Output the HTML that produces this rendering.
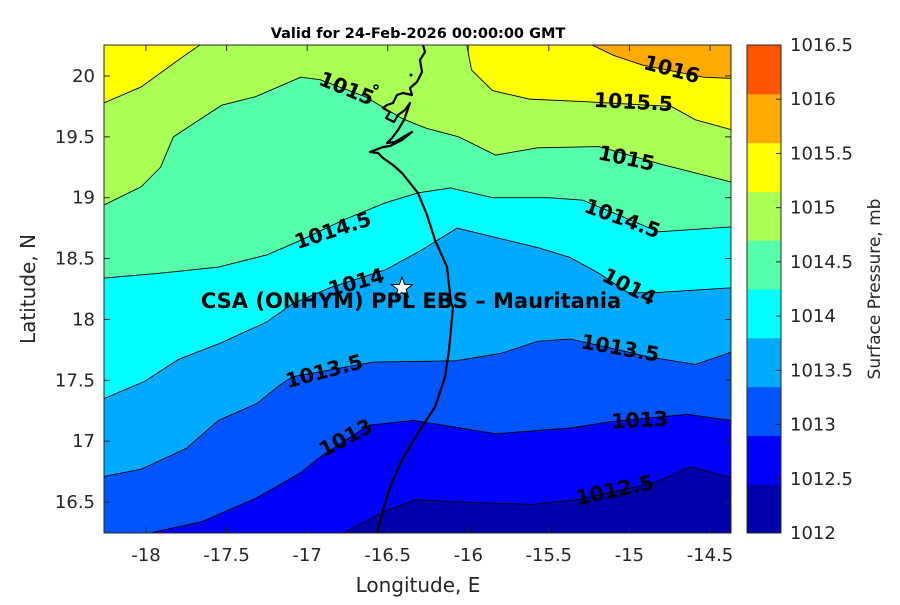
<!DOCTYPE html>
<html><head><meta charset="utf-8"><style>
body{margin:0;background:#fff;}
svg text{font-family:"DejaVu Sans","Liberation Sans",sans-serif;}
</style></head><body>
<svg id="chart" width="900" height="600" viewBox="0 0 900 600" xmlns="http://www.w3.org/2000/svg">
<text x="418" y="38" font-size="14.5" font-weight="bold" text-anchor="middle">Valid for 24-Feb-2026 00:00:00 GMT</text>
<defs><clipPath id="pc"><rect x="104" y="45" width="627" height="488"/></clipPath></defs>
<g id="fills" clip-path="url(#pc)"></g>
<g id="lines" clip-path="url(#pc)"></g>
<g clip-path="url(#pc)">
<path d="M423,45 L425,52 L420,60 L422,72 L417,82 L410,88 L412,95 L403,93 L397,95 L393,103 L387,105 L383,108 L390,112 L386,118 L394,122 L398,115 L405,110 L410,103 L404,120 L398,130 L392,138 L387,143 L395,142 L405,136 L412,132 L402,140 L390,146 L383,147 M383,147 L370,152 L378,153 L383,158 L393,165 L402,173 L418,193 L427,215 L435,240 L447,267 L451,303 L453,307 L449,350 L445,377 L435,407 L418,433 L402,460 L390,487 L382,513 L377,533" fill="none" stroke="#000" stroke-width="2.2" stroke-linejoin="round"/>
<circle cx="376" cy="87" r="2" fill="none" stroke="#000" stroke-width="1.5"/>
<circle cx="411" cy="75" r="1.5" fill="#000"/>
</g>
<g id="clabels" font-size="20.5" font-weight="bold" text-anchor="middle">
<text transform="translate(344,95) rotate(22)">1015</text>
<text transform="translate(670,76) rotate(15)">1016</text>
<text transform="translate(633,109) rotate(3)">1015.5</text>
<text transform="translate(625,165) rotate(12)">1015</text>
<text transform="translate(335,237) rotate(-18)">1014.5</text>
<text transform="translate(620,225) rotate(20)">1014.5</text>
<text transform="translate(358,289) rotate(-15)">1014</text>
<text transform="translate(626,293) rotate(27)">1014</text>
<text transform="translate(326,378) rotate(-15)">1013.5</text>
<text transform="translate(619,355) rotate(10)">1013.5</text>
<text transform="translate(349,444) rotate(-28)">1013</text>
<text transform="translate(640,427) rotate(-3)">1013</text>
<text transform="translate(616,497) rotate(-12)">1012.5</text>
</g>
<polygon points="402,277 404.6,284.4 412.5,284.6 406.2,289.4 408.5,297 402,292.5 395.5,297 397.8,289.4 391.5,284.6 399.4,284.4" fill="#fff" stroke="#000" stroke-width="1"/>
<text x="411" y="308" font-size="21" font-weight="bold" text-anchor="middle">CSA (ONHYM) PPL EBS  – Mauritania</text>
<rect x="104" y="45" width="627" height="488" fill="none" stroke="#262626" stroke-width="1"/>
<g id="axes"></g>
<text x="418" y="592" font-size="20" text-anchor="middle" fill="#262626">Longitude, E</text>
<text transform="translate(35,289) rotate(-90)" font-size="20" text-anchor="middle" fill="#262626">Latitude, N</text>
<g id="cbar"></g>
<text transform="translate(880,289) rotate(-90)" font-size="17" text-anchor="middle" fill="#262626">Surface Pressure, mb</text>
</svg>
<script>
const levels=[1012,1012.5,1013,1013.5,1014,1014.5,1015,1015.5,1016,1016.5];
const bandColors=["#0000aa","#0000ff","#0055ff","#00aaff","#00ffff","#55ffaa","#aaff55","#ffff00","#ffaa00","#ff5500"];
const xTicks=[-18,-17.5,-17,-16.5,-16,-15.5,-15,-14.5];
const yTicks=[16.5,17,17.5,18,18.5,19,19.5,20];
const c1012_5_lon=[-16.77,-16.51,-16.32,-16.06,-15.60,-15.32,-14.84,-14.62,-14.37];
const c1012_5_lat=[16.25,16.43,16.52,16.50,16.48,16.52,16.66,16.79,16.70];
const c1013_lon=[-17.96,-17.65,-17.32,-17.04,-16.92,-16.62,-16.34,-16.06,-15.83,-15.35,-15.12,-14.64,-14.37];
const c1013_lat=[16.25,16.34,16.53,16.74,16.87,17.13,17.17,17.11,17.06,17.11,17.16,17.22,17.17];
const c1013_5_lon=[-18.26,-18.03,-17.75,-17.55,-17.31,-17.17,-17.09,-16.59,-16.08,-15.80,-15.57,-15.37,-14.87,-14.59,-14.37];
const c1013_5_lat=[16.71,16.77,16.94,17.17,17.31,17.46,17.53,17.65,17.66,17.72,17.82,17.84,17.69,17.63,17.73];
const c1014_lon=[-18.26,-18.01,-17.80,-17.53,-17.25,-17.09,-16.86,-16.51,-16.29,-16.07,-15.85,-15.57,-15.37,-15.19,-15.01,-14.84,-14.37];
const c1014_lat=[17.35,17.49,17.67,17.81,17.98,18.13,18.26,18.41,18.57,18.75,18.68,18.59,18.51,18.38,18.22,18.22,18.26];
const c1014_5_lon=[-18.26,-17.91,-17.55,-17.25,-17.04,-16.77,-16.51,-16.31,-16.11,-15.85,-15.50,-15.29,-14.82,-14.37];
const c1014_5_lat=[18.34,18.38,18.43,18.53,18.65,18.82,18.96,19.04,19.08,19.00,19.00,18.98,18.72,18.76];
const c1015_lon=[-18.26,-18.03,-17.91,-17.83,-17.75,-17.53,-17.32,-17.04,-16.92,-16.64,-16.41,-16.26,-16.06,-15.83,-15.57,-15.19,-14.79,-14.37];
const c1015_lat=[18.94,19.09,19.25,19.50,19.57,19.76,19.83,19.99,19.97,19.83,19.65,19.57,19.50,19.35,19.41,19.42,19.27,19.13];
const c1015_5a_lon=[-18.26,-18.03,-17.78,-17.66];
const c1015_5a_lat=[19.78,19.91,20.15,20.26];
const c1015_5b_lon=[-16.01,-15.98,-15.85,-15.62,-15.29,-14.74,-14.59,-14.37];
const c1015_5b_lat=[20.26,20.05,19.88,19.81,19.79,19.75,19.64,19.56];
const c1016_lon=[-15.24,-15.10,-14.92,-14.54,-14.37];
const c1016_lat=[20.26,20.17,20.09,19.99,19.98];

const contours=[
 {name:"1012-5",lon:c1012_5_lon,lat:c1012_5_lat,band:1,close:["TR","TL","BL"]},
 {name:"1013",lon:c1013_lon,lat:c1013_lat,band:2,close:["TR","TL","BL"]},
 {name:"1013-5",lon:c1013_5_lon,lat:c1013_5_lat,band:3,close:["TR","TL"]},
 {name:"1014",lon:c1014_lon,lat:c1014_lat,band:4,close:["TR","TL"]},
 {name:"1014-5",lon:c1014_5_lon,lat:c1014_5_lat,band:5,close:["TR","TL"]},
 {name:"1015",lon:c1015_lon,lat:c1015_lat,band:6,close:["TR","TL"]},
 {name:"1015-5-west",lon:c1015_5a_lon,lat:c1015_5a_lat,band:7,close:["TL"]},
 {name:"1015-5-east",lon:c1015_5b_lon,lat:c1015_5b_lat,band:7,close:["TR"]},
 {name:"1016",lon:c1016_lon,lat:c1016_lat,band:8,close:["TR"]}
];
const X0=104,X1=731,Y0=45,Y1=533;
function xs(lon){return 146+(lon+18)*161.14;}
function ys(lat){return 76+(20-lat)*121.71;}
const NS="http://www.w3.org/2000/svg";
function mk(tag,attrs,parent){const e=document.createElementNS(NS,tag);for(const k in attrs)e.setAttribute(k,attrs[k]);parent.appendChild(e);return e;}
const fills=document.getElementById('fills'),lines=document.getElementById('lines');
const bg=mk('rect',{x:X0,y:Y0,width:X1-X0,height:Y1-Y0,fill:bandColors[0]},fills);


const corner={TR:[X1+5,Y0-5],TL:[X0-5,Y0-5],BL:[X0-5,Y1+5]};
contours.forEach(c=>{
 const pts=c.lon.map((v,i)=>[xs(v),ys(c.lat[i])]);
 const poly=pts.concat(c.close.map(k=>corner[k]));
 const p=mk('polygon',{points:poly.map(q=>q.join(',')).join(' '),fill:bandColors[c.band]},fills);
 
 
 const l=mk('polyline',{points:pts.map(q=>q.join(',')).join(' '),fill:'none',stroke:'#000','stroke-width':0.9},lines);
 
 
});
const axes=document.getElementById('axes');
xTicks.forEach(t=>{
 const x=xs(t);
 const a=mk('line',{x1:x,y1:Y1,x2:x,y2:Y1-6,stroke:'#262626'},axes);
 
 
 mk('line',{x1:x,y1:Y0,x2:x,y2:Y0+6,stroke:'#262626'},axes);
 const tx=mk('text',{x:x,y:561,'font-size':18,'text-anchor':'middle',fill:'#262626'},axes);
 tx.textContent=t;
 
 
});
yTicks.forEach(t=>{
 const y=ys(t);
 const a=mk('line',{x1:X0,y1:y,x2:X0+6,y2:y,stroke:'#262626'},axes);
 
 
 mk('line',{x1:X1,y1:y,x2:X1-6,y2:y,stroke:'#262626'},axes);
 const tx=mk('text',{x:95,y:y+6,'font-size':18,'text-anchor':'end',fill:'#262626'},axes);
 tx.textContent=t;
 
 
});
const cbar=document.getElementById('cbar');
const cbX=747,cbW=34,cbTop=45,cbBot=533;
const nC=bandColors.length, nL=levels.length-1;
const bh=(cbBot-cbTop)/nC;
bandColors.forEach((col,i)=>{
 const r=mk('rect',{x:cbX,y:cbBot-(i+1)*bh,width:cbW,height:bh+0.5,fill:col},cbar);
 
 
});
mk('rect',{x:cbX,y:cbTop,width:cbW,height:cbBot-cbTop,fill:'none',stroke:'#262626'},cbar);
function cy(v){return cbBot-(v-levels[0])/(levels[nL]-levels[0])*(cbBot-cbTop);}
levels.forEach(v=>{
 const y=cy(v);
 mk('line',{x1:cbX+cbW,y1:y,x2:cbX+cbW-5,y2:y,stroke:'#262626'},cbar);
 const tx=mk('text',{x:790,y:y+6,'font-size':18,fill:'#262626'},cbar);
 tx.textContent=v;
 
 
});
</script>
</body></html>
